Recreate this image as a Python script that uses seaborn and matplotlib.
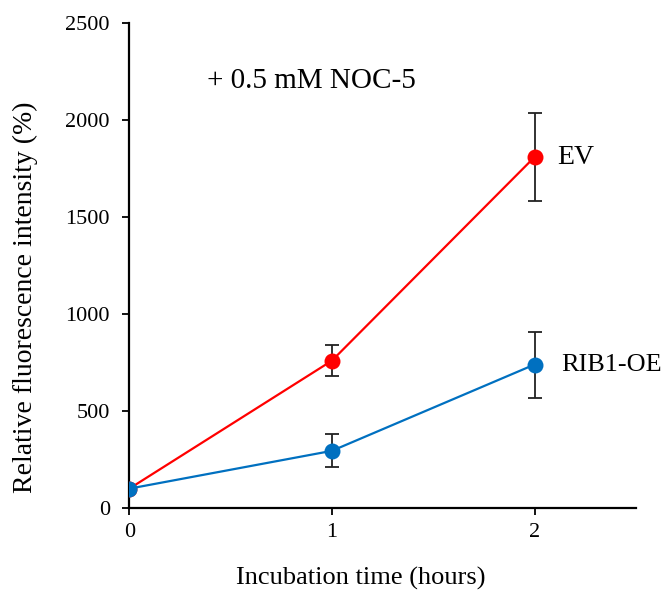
import matplotlib
matplotlib.use("Agg")
import matplotlib.pyplot as plt
import seaborn as sns
import pandas as pd

hours = [0, 1, 2]
ev_values = [100, 760, 1810]
ev_err = [0, 80, 225]
oe_values = [100, 295, 740]
oe_err = [0, 85, 170]
series_names = ["EV", "RIB1-OE"]
yticks = [0, 500, 1000, 1500, 2000, 2500]

sns.set_style("ticks")
plt.rcParams["font.family"] = ["Liberation Serif", "DejaVu Serif"]
plt.rcParams["text.color"] = "black"
plt.rcParams["axes.labelcolor"] = "black"

df = pd.DataFrame({
    "hours": hours * 2,
    "value": ev_values + oe_values,
    "err": ev_err + oe_err,
    "series": [series_names[0]] * 3 + [series_names[1]] * 3,
})
colors = {"EV": "#FF0000", "RIB1-OE": "#0070C0"}

fig = plt.figure(figsize=(6.63, 5.97), dpi=100)
ax = fig.add_axes([0.195, 0.149, 0.764, 0.812])

for name in series_names:
    sub = df[df["series"] == name]
    ax.errorbar(sub["hours"], sub["value"], yerr=sub["err"], fmt="none",
                ecolor="#222222", elinewidth=1.3, capsize=5, capthick=1.3, zorder=1)

sns.lineplot(data=df, x="hours", y="value", hue="series", palette=colors,
             marker="o", markersize=11.5, markeredgewidth=0, linewidth=1.6,
             legend=False, ax=ax, zorder=3)

ax.set_xlim(0, 2.5)
ax.set_ylim(0, 2500)
ax.set_xticks(hours)
ax.set_yticks(yticks)
ax.tick_params(axis="both", direction="out", length=5, width=1.3, labelsize=16,
               colors="black", labelcolor="black")
ax.tick_params(axis="x", pad=6)
ax.tick_params(axis="y", pad=9)
for s in ["left", "bottom"]:
    ax.spines[s].set_linewidth(1.6)
    ax.spines[s].set_color("black")
sns.despine(ax=ax)
for sp in ["left", "bottom"]:
    ax.spines[sp].set_clip_on(False)

ax.set_xlabel("Incubation time (hours)", fontsize=19, labelpad=18)
ax.set_ylabel("Relative fluorescence intensity (%)", fontsize=20, labelpad=20)
ax.xaxis.label.set_x(0.457)
ax.yaxis.label.set_y(0.435)

ax.text(0.384, 2200, "+ 0.5 mM NOC-5", fontsize=21, va="center", ha="left")
ax.text(2.11, ev_values[2], "EV", fontsize=20, va="center", ha="left")
ax.text(2.13, oe_values[2], "RIB1-OE", fontsize=18.8, va="center", ha="left")

fig.savefig("out.png", dpi=100)
